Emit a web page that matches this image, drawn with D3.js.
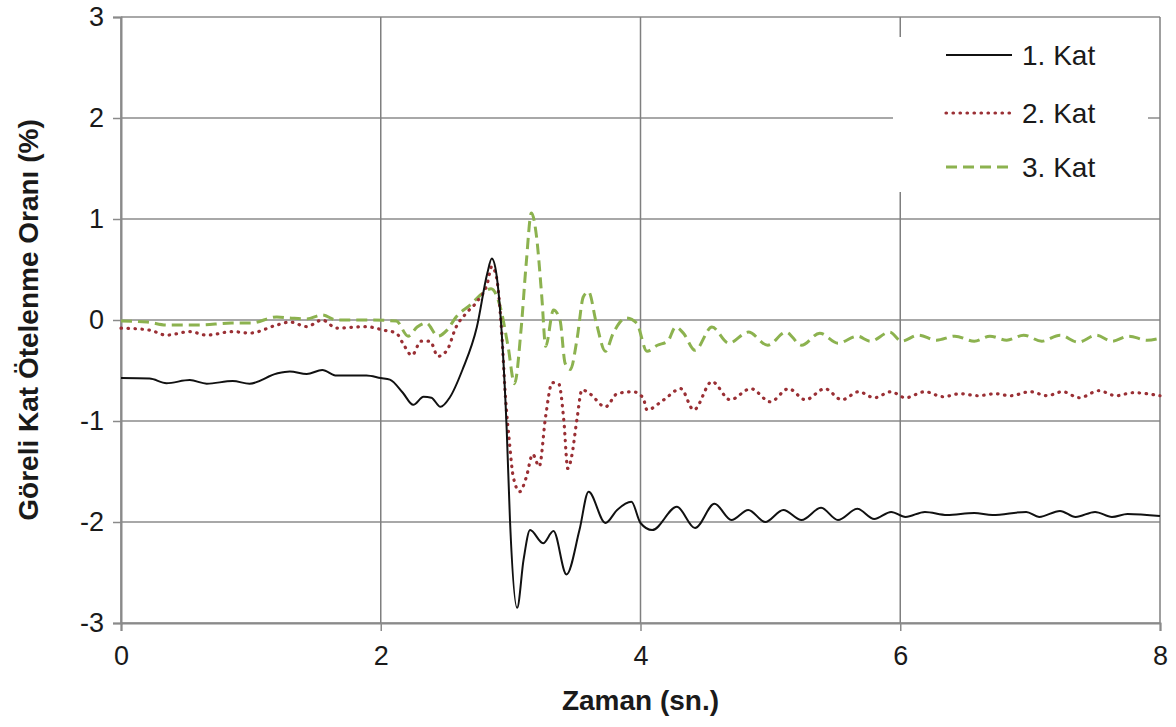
<!DOCTYPE html>
<html>
<head>
<meta charset="utf-8">
<script src="https://cdn.jsdelivr.net/npm/d3@7"></script>
<style>
  html, body { margin: 0; padding: 0; background: #fff; }
  svg { display: block; font-family: "Liberation Sans", Arial, sans-serif; }
</style>
</head>
<body>
<svg id="chart" width="1176" height="727"></svg>
<script>
// Story drift ratio time histories (%), three storeys
const xTicks = [0, 2, 4, 6, 8];
const yTicks = [-3, -2, -1, 0, 1, 2, 3];
const seriesNames = ["1. Kat", "2. Kat", "3. Kat"];

const time1 = [0, 0.22, 0.35, 0.53, 0.66, 0.86, 0.99, 1.2, 1.3, 1.43, 1.55, 1.66, 1.89, 2.0, 2.07, 2.17, 2.25, 2.33, 2.39, 2.46, 2.53, 2.63, 2.74, 2.82, 2.855, 2.89, 2.93, 2.97, 2.995, 3.05, 3.1, 3.15, 3.25, 3.33, 3.43, 3.53, 3.6, 3.73, 3.82, 3.93, 4.0, 4.09, 4.28, 4.42, 4.57, 4.7, 4.83, 4.96, 5.1, 5.24, 5.39, 5.52, 5.67, 5.8, 5.93, 6.04, 6.19, 6.36, 6.57, 6.71, 6.97, 7.07, 7.23, 7.35, 7.5, 7.63, 7.75, 8.0];
const kat1 = [-0.575, -0.58, -0.625, -0.595, -0.63, -0.605, -0.63, -0.53, -0.51, -0.535, -0.495, -0.55, -0.55, -0.575, -0.59, -0.72, -0.84, -0.76, -0.77, -0.86, -0.77, -0.49, -0.07, 0.46, 0.61, 0.46, -0.1, -1.09, -1.98, -2.85, -2.37, -2.08, -2.21, -2.09, -2.52, -2.08, -1.70, -2.01, -1.88, -1.80, -2.01, -2.08, -1.85, -2.06, -1.82, -1.98, -1.88, -2.0, -1.88, -1.98, -1.86, -1.98, -1.87, -1.97, -1.9, -1.95, -1.9, -1.93, -1.91, -1.93, -1.9, -1.95, -1.89, -1.95, -1.9, -1.95, -1.92, -1.94];

const time2 = [0, 0.22, 0.35, 0.53, 0.66, 0.86, 0.99, 1.2, 1.3, 1.43, 1.55, 1.66, 1.89, 2.02, 2.12, 2.17, 2.24, 2.31, 2.38, 2.44, 2.51, 2.58, 2.66, 2.74, 2.82, 2.855, 2.89, 2.93, 2.96, 2.99, 3.02, 3.07, 3.12, 3.17, 3.22, 3.27, 3.32, 3.37, 3.41, 3.44, 3.47, 3.51, 3.55, 3.61, 3.73, 3.82, 3.94, 4.02, 4.05, 4.18, 4.31, 4.41, 4.55, 4.69, 4.85, 5.0, 5.14, 5.27, 5.42, 5.55, 5.68, 5.8, 5.93, 6.04, 6.19, 6.33, 6.46, 6.6, 6.73, 6.85, 7.0, 7.13, 7.25, 7.38, 7.53, 7.66, 7.79, 8.0];
const kat2 = [-0.08, -0.1, -0.15, -0.115, -0.15, -0.115, -0.13, -0.05, -0.02, -0.065, 0.0, -0.08, -0.066, -0.1, -0.13, -0.23, -0.35, -0.21, -0.21, -0.36, -0.3, -0.07, 0.07, 0.18, 0.36, 0.53, 0.43, -0.1, -0.76, -1.2, -1.55, -1.70, -1.56, -1.33, -1.45, -0.95, -0.62, -0.63, -1.0, -1.47, -1.35, -0.99, -0.69, -0.73, -0.86, -0.73, -0.71, -0.77, -0.89, -0.79, -0.68, -0.89, -0.61, -0.79, -0.68, -0.81, -0.68, -0.79, -0.68, -0.79, -0.71, -0.77, -0.71, -0.77, -0.71, -0.76, -0.73, -0.75, -0.73, -0.75, -0.71, -0.75, -0.71, -0.77, -0.7, -0.75, -0.72, -0.75];

const time3 = [0, 0.2, 0.35, 0.6, 0.85, 1.0, 1.2, 1.3, 1.43, 1.55, 1.66, 1.89, 2.12, 2.21, 2.28, 2.35, 2.44, 2.51, 2.58, 2.69, 2.78, 2.85, 2.92, 2.98, 3.03, 3.08, 3.12, 3.16, 3.2, 3.24, 3.27, 3.33, 3.38, 3.42, 3.46, 3.51, 3.56, 3.6, 3.66, 3.73, 3.79, 3.89, 3.97, 4.05, 4.13, 4.21, 4.27, 4.33, 4.42, 4.55, 4.68, 4.83, 4.98, 5.12, 5.24, 5.38, 5.52, 5.67, 5.77, 5.92, 6.01, 6.14, 6.28, 6.42, 6.57, 6.69, 6.82, 6.95, 7.09, 7.23, 7.37, 7.51, 7.63, 7.76, 7.9, 8.0];
const kat3 = [-0.01, -0.02, -0.05, -0.05, -0.03, -0.03, 0.03, 0.02, 0.01, 0.05, 0.0, 0.0, -0.01, -0.16, -0.07, -0.03, -0.16, -0.1, 0.03, 0.15, 0.26, 0.31, 0.13, -0.26, -0.63, -0.1, 0.56, 1.06, 0.82, 0.23, -0.26, 0.1, 0.0, -0.43, -0.49, -0.2, 0.23, 0.28, -0.03, -0.31, -0.13, 0.02, -0.03, -0.31, -0.25, -0.21, -0.07, -0.13, -0.3, -0.07, -0.23, -0.12, -0.25, -0.12, -0.25, -0.13, -0.23, -0.16, -0.21, -0.12, -0.21, -0.15, -0.2, -0.16, -0.21, -0.16, -0.2, -0.15, -0.21, -0.15, -0.22, -0.15, -0.21, -0.16, -0.2, -0.18];

const svg = d3.select("#chart");
const margin = { top: 17, right: 16, bottom: 104, left: 121 };
const W = 1176, H = 727;
const iw = W - margin.left - margin.right;
const ih = H - margin.top - margin.bottom;

const x = d3.scaleLinear().domain([0, 8]).range([0, iw]);
const y = d3.scaleLinear().domain([-3, 3]).range([ih, 0]);

const g = svg.append("g").attr("transform", `translate(${margin.left},${margin.top})`);

// horizontal gridlines
g.append("g")
  .selectAll("line").data(yTicks).join("line")
  .attr("x1", 0).attr("x2", iw)
  .attr("y1", d => y(d)).attr("y2", d => y(d))
  .attr("stroke", "#a8a8a8").attr("stroke-width", 2);

// vertical gridlines
g.append("g")
  .selectAll("line").data(xTicks).join("line")
  .attr("x1", d => x(d)).attr("x2", d => x(d))
  .attr("y1", 0).attr("y2", ih)
  .attr("stroke", "#7f7f7f").attr("stroke-width", 1.5);

// axes
const xAxis = g.append("g").attr("transform", `translate(0,${ih})`)
  .call(d3.axisBottom(x).tickValues(xTicks).tickSize(8).tickPadding(15).tickFormat(d3.format("d")));
const yAxis = g.append("g")
  .call(d3.axisLeft(y).tickValues(yTicks).tickSize(8).tickPadding(9).tickFormat(d3.format("d")));
[xAxis, yAxis].forEach(a => {
  a.select(".domain").attr("stroke", "#8a8a8a").attr("stroke-width", 2);
  a.selectAll(".tick line").attr("stroke", "#8a8a8a").attr("stroke-width", 1.5);
  a.selectAll(".tick text")
    .attr("font-family", "Liberation Sans, Arial, sans-serif")
    .attr("font-size", 27).attr("fill", "#1a1a1a");
});
yAxis.selectAll(".tick text").text(d => d < 0 ? "-" + Math.abs(d) : d);

// series
const series = [
  { name: seriesNames[0], t: time1, v: kat1, color: "#111111", width: 2, dash: null, cap: "butt" },
  { name: seriesNames[1], t: time2, v: kat2, color: "#9a2f34", width: 3.2, dash: "0.5,6.5", cap: "round" },
  { name: seriesNames[2], t: time3, v: kat3, color: "#8cb24f", width: 3, dash: "11,6", cap: "butt" }
];

const line = d3.line()
  .x(d => x(d[0])).y(d => y(d[1]))
  .curve(d3.curveMonotoneX);

// draw third storey first so lower storeys sit on top
[series[2], series[1], series[0]].forEach(s => {
  const pts = s.t.map((t, i) => [t, s.v[i]]);
  g.append("path")
    .datum(pts)
    .attr("fill", "none")
    .attr("stroke", s.color)
    .attr("stroke-width", s.width)
    .attr("stroke-linecap", s.cap)
    .attr("stroke-linejoin", "round")
    .attr("stroke-dasharray", s.dash)
    .attr("d", line);
});

// legend
const lg = svg.append("g");
lg.append("rect")
  .attr("x", 893).attr("y", 37).attr("width", 255).attr("height", 155)
  .attr("fill", "#fff");
const rowsY = [55, 113, 167];
series.forEach((s, i) => {
  lg.append("line")
    .attr("x1", 946).attr("x2", 1012)
    .attr("y1", rowsY[i]).attr("y2", rowsY[i])
    .attr("stroke", s.color)
    .attr("stroke-width", s.width)
    .attr("stroke-linecap", s.cap)
    .attr("stroke-dasharray", s.dash);
  lg.append("text")
    .attr("x", 1022).attr("y", rowsY[i])
    .attr("dy", "0.36em")
    .attr("font-size", 28)
    .attr("fill", "#1a1a1a")
    .text(s.name);
});

// axis titles
svg.append("text")
  .attr("x", margin.left + iw / 2).attr("y", 700)
  .attr("dy", "0.36em")
  .attr("text-anchor", "middle")
  .attr("font-size", 28).attr("font-weight", "bold").attr("fill", "#1a1a1a")
  .text("Zaman (sn.)");
svg.append("text")
  .attr("transform", `translate(28,${margin.top + ih / 2}) rotate(-90)`)
  .attr("dy", "0.36em")
  .attr("text-anchor", "middle")
  .attr("font-size", 28).attr("font-weight", "bold").attr("fill", "#1a1a1a")
  .text("Göreli Kat Ötelenme Oranı (%)");
</script>
</body>
</html>
